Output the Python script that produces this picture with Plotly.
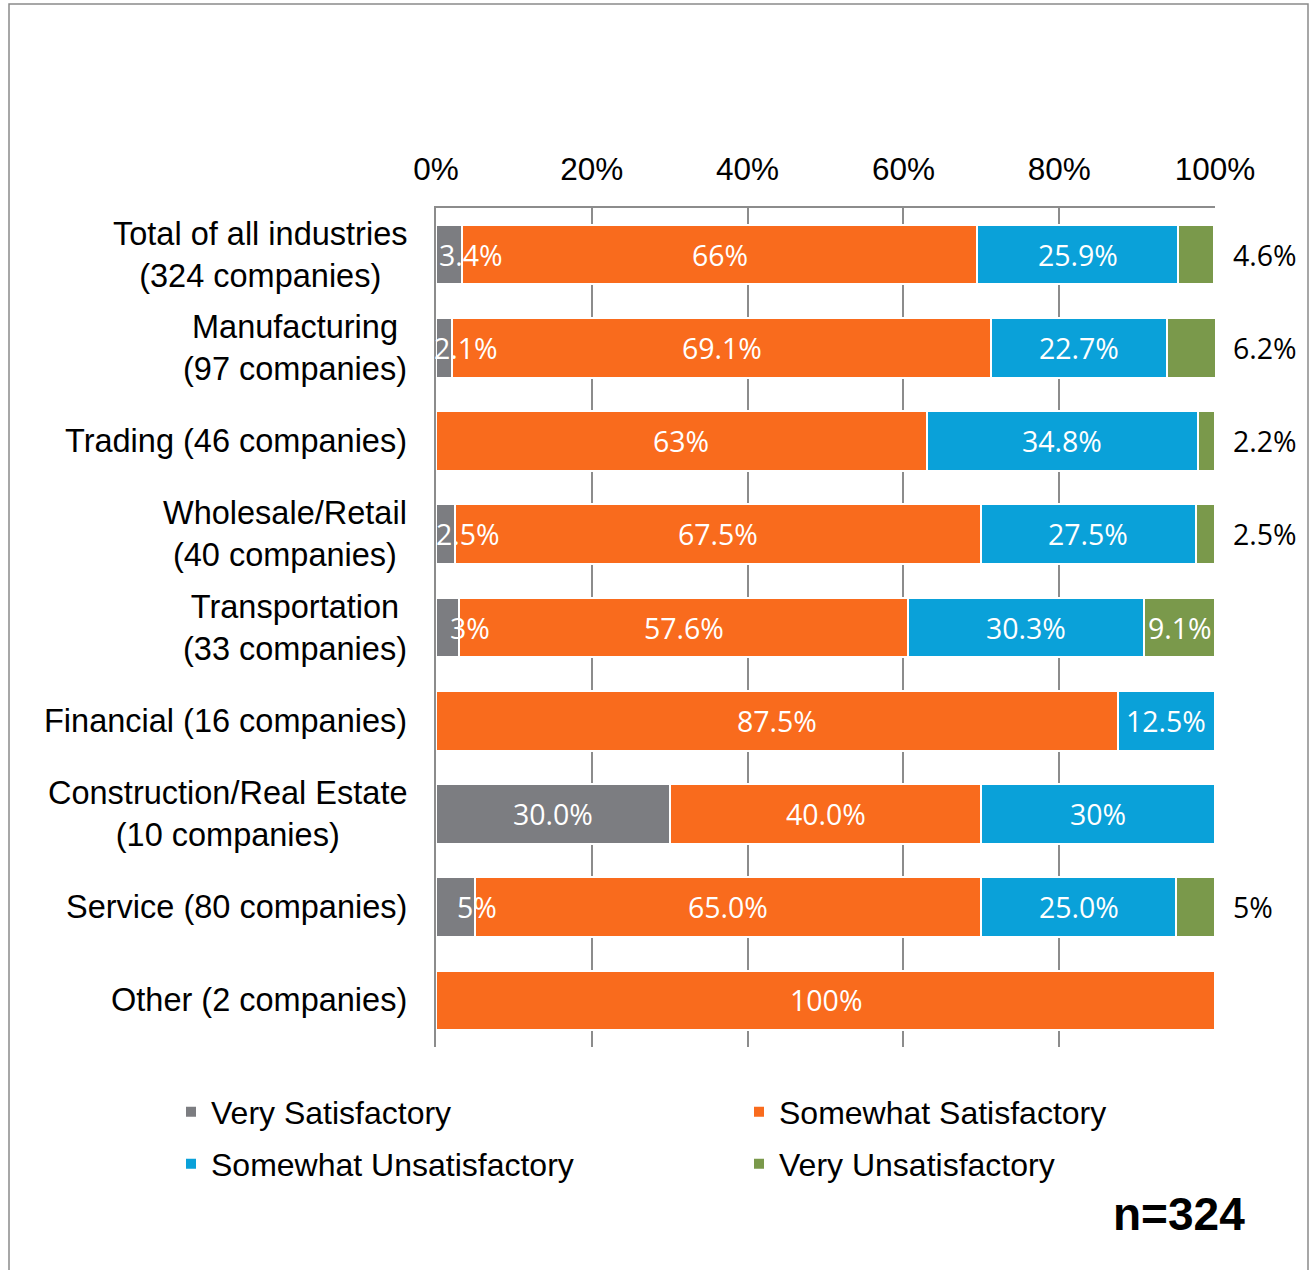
import plotly.graph_objects as go

# ---------------- data ----------------
categories = [
    "Total of all industries<br>(324 companies)",
    "Manufacturing<br>(97 companies)",
    "Trading (46 companies)",
    "Wholesale/Retail<br>(40 companies)",
    "Transportation<br>(33 companies)",
    "Financial (16 companies)",
    "Construction/Real Estate<br>(10 companies)",
    "Service (80 companies)",
    "Other (2 companies)",
]
series_names = ["Very Satisfactory", "Somewhat Satisfactory",
                "Somewhat Unsatisfactory", "Very Unsatisfactory"]

very_sat = [3.4, 2.1, 0, 2.5, 3.0, 0, 30.0, 5.0, 0]
somewhat_sat = [66.0, 69.1, 63.0, 67.5, 57.6, 87.5, 40.0, 65.0, 100.0]
somewhat_unsat = [25.9, 22.7, 34.8, 27.5, 30.3, 12.5, 30.0, 25.0, 0]
very_unsat = [4.6, 6.2, 2.2, 2.5, 9.1, 0, 0, 5.0, 0]

very_sat_labels = ["3.4%", "2.1%", "", "2.5%", "3%", "", "30.0%", "5%", ""]
somewhat_sat_labels = ["66%", "69.1%", "63%", "67.5%", "57.6%", "87.5%", "40.0%", "65.0%", "100%"]
somewhat_unsat_labels = ["25.9%", "22.7%", "34.8%", "27.5%", "30.3%", "12.5%", "30%", "25.0%", ""]
very_unsat_labels = ["4.6%", "6.2%", "2.2%", "2.5%", "9.1%", "", "", "5%", ""]

tick_vals = [0, 20, 40, 60, 80, 100]
tick_text = ["0%", "20%", "40%", "60%", "80%", "100%"]

sample_note = "n=324"

# ---------------- style ----------------
colors = ["#7c7d81", "#f96b1d", "#0aa1d9", "#7a994b"]
AXIS_FONT = "Liberation Sans, Arial, sans-serif"
LABEL_FONT = "Open Sans, sans-serif"
GRID = "#8c8c8c"

W, H = 1313, 1270
ML, MR, MT, MB = 436, 98, 208, 223
PW, PH = W - ML - MR, H - MT - MB


def px_x(page_x):
    return (page_x - ML) / PW


def px_y(page_y):
    return (H - MB - page_y) / PH


fig = go.Figure()
all_values = [very_sat, somewhat_sat, somewhat_unsat, very_unsat]
all_labels = [very_sat_labels, somewhat_sat_labels, somewhat_unsat_labels, very_unsat_labels]
legend_ids = ["legend", "legend2", "legend3", "legend4"]

for name, vals, col, lg in zip(series_names, all_values, colors, legend_ids):
    fig.add_trace(go.Bar(
        y=categories, x=vals, name=name, orientation="h",
        marker=dict(color=col, line=dict(color="white", width=2)),
        legend=lg, showlegend=True, hoverinfo="x+name",
    ))

# data labels
starts = [0.0] * len(categories)
annotations = []
for si, (vals, labs) in enumerate(zip(all_values, all_labels)):
    for ci, (v, lab) in enumerate(zip(vals, labs)):
        s = starts[ci]
        if lab:
            if si == 3 and v < 8:
                annotations.append(dict(
                    x=100, y=ci, xref="x", yref="y", text=lab, showarrow=False,
                    xanchor="left", xshift=16,
                    font=dict(family=LABEL_FONT, size=28.5, color="black")))
            else:
                shift = 22 if (si == 0 and v < 10) else 0
                annotations.append(dict(
                    x=s + v / 2, y=ci, xref="x", yref="y", text=lab, showarrow=False,
                    xanchor="center", xshift=shift,
                    font=dict(family=LABEL_FONT, size=28.5, color="white")))
        starts[ci] = s + v

# category labels (centered multi-line, right aligned block)
for ci, cat in enumerate(categories):
    annotations.append(dict(
        x=0, y=ci, xref="paper", yref="y", text=cat, showarrow=False,
        xanchor="right", align="center", xshift=-27,
        font=dict(family=AXIS_FONT, size=32.5, color="black")))

annotations.append(dict(
    x=px_x(1247), y=px_y(1214), xref="paper", yref="paper", text="<b>" + sample_note + "</b>",
    showarrow=False, xanchor="right", yanchor="middle",
    font=dict(family=AXIS_FONT, size=46, color="black")))

legend_pos = [(171, 1112), (739, 1112), (171, 1164), (739, 1164)]
legend_layout = {}
for lg, (lx, ly) in zip(legend_ids, legend_pos):
    legend_layout[lg] = dict(
        orientation="h", x=px_x(lx), xanchor="left", y=px_y(ly), yanchor="middle",
        font=dict(family=AXIS_FONT, size=32, color="black"), bgcolor="rgba(0,0,0,0)")

fig.update_layout(
    width=W, height=H,
    margin=dict(l=ML, r=MR, t=MT, b=MB),
    barmode="stack", bargap=0.36,
    showlegend=True,
    paper_bgcolor="white", plot_bgcolor="white",
    annotations=annotations,
    xaxis=dict(side="top", range=[0, 100], tickvals=tick_vals, ticktext=tick_text,
               showgrid=True, gridcolor=GRID, gridwidth=1.5, zeroline=False,
               showline=True, linecolor=GRID, linewidth=1.5, ticks="",
               ticklabelstandoff=14,
               tickfont=dict(family=AXIS_FONT, size=31.5, color="black"), fixedrange=True),
    yaxis=dict(type="category", categoryarray=categories, autorange="reversed",
               showticklabels=False, showgrid=False, zeroline=False,
               showline=True, linecolor=GRID, linewidth=1.5, ticks=""),
    shapes=[dict(type="rect", xref="paper", yref="paper",
                 x0=px_x(9), x1=px_x(1308), y0=px_y(1290), y1=px_y(4),
                 line=dict(color="#8a8a8a", width=1.5), layer="below")],
    **legend_layout,
)

fig.write_html(
    "out.html",
    config={"displayModeBar": False},
    post_script="document.body.style.margin='0px';document.body.style.overflow='hidden';",
)
